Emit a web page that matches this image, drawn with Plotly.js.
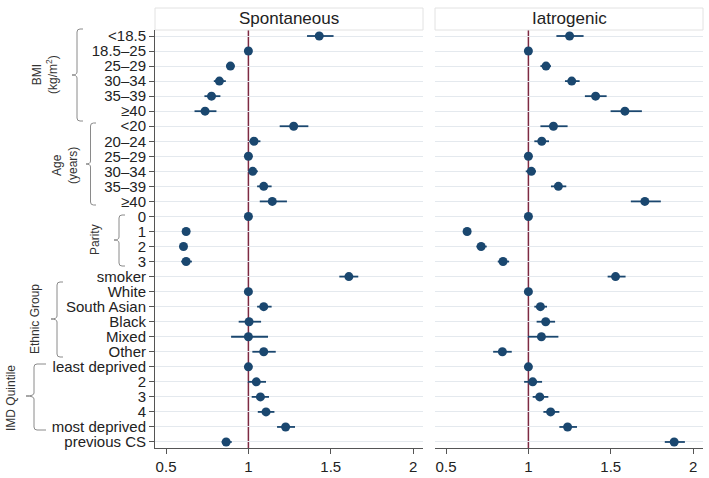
<!DOCTYPE html>
<html>
<head>
<meta charset="utf-8">
<script src="https://cdn.plot.ly/plotly-3.0.1.min.js"></script>
<style>html,body{margin:0;padding:0;background:#fff}#chart{width:709px;height:478px}</style>
</head>
<body>
<div id="chart"></div>
<script>
// ---- data ----
const rowLabels = ["<18.5","18.5–25","25–29","30–34","35–39","≥40",
  "<20","20–24","25–29","30–34","35–39","≥40",
  "0","1","2","3","smoker",
  "White","South Asian","Black","Mixed","Other",
  "least deprived","2","3","4","most deprived","previous CS"];
const panelTitles = ["Spontaneous","Iatrogenic"];
const xTickVals = [0.5,1,1.5,2];
const xTickText = ["0.5","1","1.5","2"];

const sponEst = [1.43,1,0.891,0.824,0.776,0.737,1.275,1.034,1,1.026,1.093,1.145,1,0.622,0.606,0.622,1.61,1,1.093,1.004,1.0,1.093,1,1.048,1.073,1.107,1.226,0.865];
const sponLo  = [1.356,1,0.87,0.79,0.733,0.673,1.19,1.006,1,1.004,1.053,1.069,1,0.61,0.595,0.592,1.552,1,1.053,0.941,0.895,1.024,1,0.996,1.02,1.057,1.174,0.838];
const sponHi  = [1.517,1,0.915,0.863,0.83,0.806,1.364,1.073,1,1.057,1.141,1.234,1,0.635,0.62,0.657,1.667,1,1.141,1.077,1.119,1.166,1,1.107,1.125,1.158,1.283,0.899];

const iatEst = [1.25,1,1.107,1.263,1.408,1.586,1.152,1.081,1,1.018,1.182,1.707,1,0.628,0.713,0.846,1.529,1,1.073,1.105,1.079,0.842,1,1.026,1.069,1.135,1.238,1.885];
const iatLo  = [1.17,1,1.073,1.222,1.343,1.499,1.073,1.036,1,0.984,1.137,1.622,1,0.615,0.685,0.814,1.481,1,1.036,1.05,0.996,0.786,1,0.974,1.026,1.091,1.188,1.828];
const iatHi  = [1.335,1,1.137,1.311,1.475,1.689,1.238,1.125,1,1.046,1.23,1.804,1,0.64,0.747,0.883,1.59,1,1.113,1.162,1.182,0.899,1,1.083,1.121,1.188,1.295,1.95];

const refValue = 1;
const groupLabels = ["BMI<br>(kg/m<sup>2</sup>)","Age<br>(years)","Parity","Ethnic Group","IMD Quintile"];

// ---- layout helpers ----
const W = 709, H = 478, ML = 155, MR = 6, MT = 30, MB = 30;
const PW = W - ML - MR, PH = H - MT - MB;
const px = p => (p - ML) / PW;
const py = p => (H - MB - p) / PH;
const rows = rowLabels.map((_, i) => i);
const NAVY = "#1a476f";
const FONT = "Liberation Sans, Arial, sans-serif";

function trace(est, lo, hi, xa, ya) {
  return {
    type: "scatter", mode: "markers", x: est, y: rows, xaxis: xa, yaxis: ya,
    marker: {color: NAVY, size: 9},
    error_x: {type: "data", symmetric: false,
      array: est.map((v, i) => hi[i] - v),
      arrayminus: est.map((v, i) => v - lo[i]),
      color: NAVY, thickness: 1.8, width: 0},
    hoverinfo: "x+y", showlegend: false
  };
}

const data = [
  trace(sponEst, sponLo, sponHi, "x", "y"),
  trace(iatEst, iatLo, iatHi, "x2", "y2")
];

const xBase = {
  range: [0.433, 2.06], tickvals: xTickVals, ticktext: xTickText,
  ticks: "outside", ticklen: 5, tickcolor: "#555", showline: true, linecolor: "#555",
  linewidth: 1, showgrid: false, zeroline: false,
  tickfont: {family: FONT, size: 15, color: "#222"}, fixedrange: true
};
const yBase = {
  range: [27.4, -0.4], tickvals: rows, showgrid: true, gridcolor: "#e4e9ee", gridwidth: 1,
  zeroline: false, fixedrange: true
};

const shapes = [];
const annotations = [];
// reference lines
["x","x2"].forEach(xa => shapes.push({type: "line", xref: xa, yref: "paper",
  x0: refValue, x1: refValue, y0: 0, y1: 1, layer: "between",
  line: {color: "#7d2a42", width: 1.5}}));
// panel title boxes
["x","x2"].forEach((xa, k) => {
  shapes.push({type: "rect", xref: xa + " domain", yref: "paper", x0: 0, x1: 1,
    y0: py(30), y1: py(8), line: {color: "#e2e2e2", width: 1}, fillcolor: "#ffffff"});
  annotations.push({xref: xa + " domain", yref: "paper", x: 0.5, y: py(19),
    text: panelTitles[k], showarrow: false, yanchor: "middle",
    font: {family: FONT, size: 17, color: "#222"}});
});
// group brackets  [x, top, mid, bottom, hookRight, tickLeft]
const brackets = [
  [77, 29, 75, 121, 83, 72],
  [90.5, 123, 164, 205, 96, 86],
  [119, 215, 240, 266, 125, 114],
  [57, 282, 319, 357, 63, 51],
  [34, 364, 396, 430, 46, 26]
];
brackets.forEach(b => {
  const [x, t, m, bt, hr, tl] = b;
  const r = 3;
  const path = `M ${px(hr)} ${py(t)} L ${px(x + r)} ${py(t)} Q ${px(x)} ${py(t)} ${px(x)} ${py(t + r)}`
    + ` L ${px(x)} ${py(m - r)} Q ${px(x)} ${py(m)} ${px(tl)} ${py(m)}`
    + ` Q ${px(x)} ${py(m)} ${px(x)} ${py(m + r)} L ${px(x)} ${py(bt - r)}`
    + ` Q ${px(x)} ${py(bt)} ${px(x + r)} ${py(bt)} L ${px(hr)} ${py(bt)}`;
  shapes.push({type: "path", xref: "paper", yref: "paper", path: path,
    line: {color: "#8a8a8a", width: 1}});
});
// group labels [cx, cy]
const glPos = [[45, 75], [65, 166], [95, 240], [35, 319], [11, 398]];
groupLabels.forEach((t, i) => annotations.push({
  xref: "paper", yref: "paper", x: px(glPos[i][0]), y: py(glPos[i][1]),
  text: t, textangle: -90, showarrow: false, xanchor: "center", yanchor: "middle",
  font: {family: FONT, size: 12, color: "#333"}
}));

const layout = {
  width: W, height: H, margin: {l: ML, r: MR, t: MT, b: MB},
  paper_bgcolor: "#fff", plot_bgcolor: "#fff",
  font: {family: FONT},
  xaxis: Object.assign({}, xBase, {domain: [0, 268 / PW], anchor: "y"}),
  xaxis2: Object.assign({}, xBase, {domain: [280 / PW, 1], anchor: "y2"}),
  yaxis: Object.assign({}, yBase, {anchor: "x", ticktext: rowLabels, ticks: "outside",
    ticklen: 5, tickcolor: "#555", showline: true, linecolor: "#555", linewidth: 1,
    tickfont: {family: FONT, size: 15, color: "#222"}}),
  yaxis2: Object.assign({}, yBase, {anchor: "x2", matches: "y", showticklabels: false,
    showline: false, ticks: ""}),
  shapes: shapes, annotations: annotations
};

Plotly.newPlot("chart", data, layout, {displayModeBar: false, staticPlot: true});
</script>
</body>
</html>
